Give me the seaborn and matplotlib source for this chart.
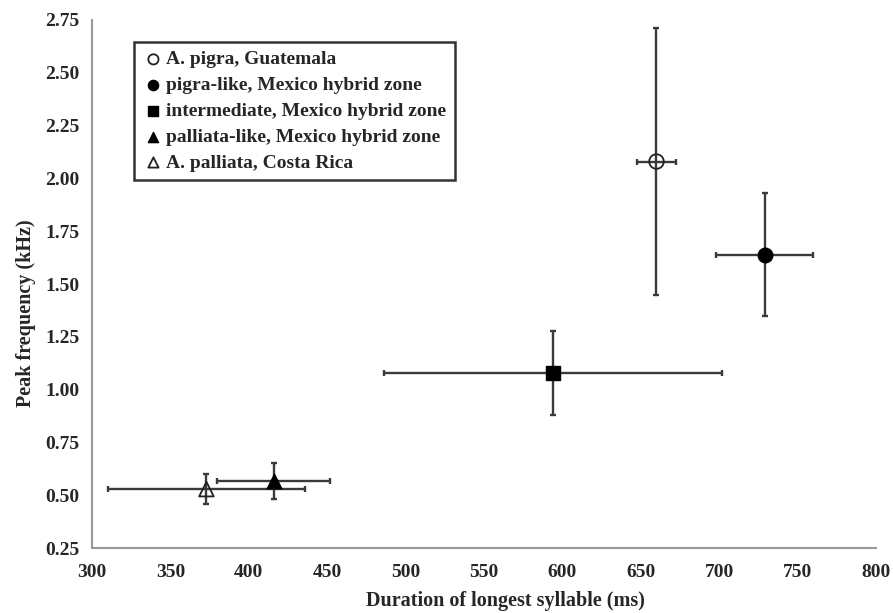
import matplotlib
matplotlib.use("Agg")
import matplotlib.pyplot as plt
import seaborn as sns

# data
groups = ["A. pigra, Guatemala",
          "pigra-like, Mexico hybrid zone",
          "intermediate, Mexico hybrid zone",
          "palliata-like, Mexico hybrid zone",
          "A. palliata, Costa Rica"]
dur_mean = [660, 729, 594, 416, 373]
dur_err = [12.5, 31, 108, 36, 63]
freq_mean = [2.08, 1.64, 1.08, 0.57, 0.53]
freq_err = [0.63, 0.29, 0.20, 0.085, 0.07]
markers = ["o", "o", "s", "^", "^"]
filled = [False, True, True, True, False]

x_ticks = [300, 350, 400, 450, 500, 550, 600, 650, 700, 750, 800]
y_ticks = [0.25, 0.50, 0.75, 1.00, 1.25, 1.50, 1.75, 2.00, 2.25, 2.50, 2.75]

sns.set_style("white")
plt.rcParams['font.family'] = ['Liberation Serif', 'DejaVu Serif']
plt.rcParams['font.weight'] = 'bold'

fig = plt.figure(figsize=(8.93, 6.13), dpi=100)
ax = fig.add_axes([0.103, 0.1055, 0.878, 0.862])

# error bars first
for i in range(len(groups)):
    ax.errorbar(dur_mean[i], freq_mean[i], xerr=dur_err[i], yerr=freq_err[i],
                fmt='none', ecolor='#3a3a3a', elinewidth=1.7, capsize=2.5,
                capthick=1.7, zorder=2)

# points
for i, g in enumerate(groups):
    if filled[i]:
        sns.scatterplot(x=[dur_mean[i]], y=[freq_mean[i]], marker=markers[i],
                        s=110, color='black', edgecolor='black', linewidth=1,
                        label=g, ax=ax, zorder=3)
    else:
        sns.scatterplot(x=[dur_mean[i]], y=[freq_mean[i]], marker=markers[i],
                        s=110, facecolor='none', edgecolor='#222222',
                        linewidth=1.3, label=g, ax=ax, zorder=3)

ax.set_xlim(300, 800)
ax.set_ylim(0.25, 2.75)
ax.set_xticks(x_ticks)
ax.set_yticks(y_ticks)
ax.set_yticklabels([f"{v:.2f}" for v in y_ticks])
ax.tick_params(direction='in', length=4, width=1, color='#999999',
               labelsize=14)
ax.tick_params(axis='y', pad=9)
ax.tick_params(axis='x', pad=11)
for lab in ax.get_xticklabels() + ax.get_yticklabels():
    lab.set_fontweight('bold')

for side in ['top', 'right']:
    ax.spines[side].set_visible(False)
for side in ['left', 'bottom']:
    ax.spines[side].set_color('#999999')
    ax.spines[side].set_linewidth(1.5)

ax.set_xlabel("Duration of longest syllable (ms)", fontsize=14.5,
              fontweight='bold')
ax.set_ylabel("Peak frequency (kHz)", fontsize=14.5, fontweight='bold')
ax.xaxis.set_label_coords(0.527, -0.08)
ax.yaxis.set_label_coords(-0.072, 0.445)

leg = ax.legend(loc='upper left', bbox_to_anchor=(0.0536, 0.958),
                frameon=True, fancybox=False, edgecolor='black',
                prop={'family': 'Liberation Serif', 'weight': 'bold', 'size': 14},
                handletextpad=0.1, handlelength=1.1, markerscale=0.7,
                borderpad=0.45, labelspacing=0.42, borderaxespad=0)
leg.get_frame().set_linewidth(1.8)

fig.savefig("out.png", dpi=100)
